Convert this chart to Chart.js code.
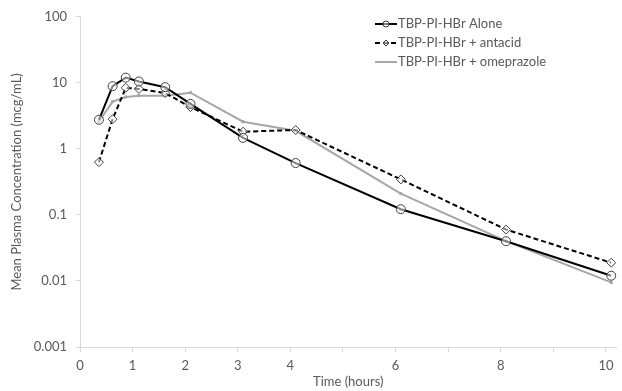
<!DOCTYPE html>
<html>
<head>
<meta charset="utf-8">
<script src="https://cdn.jsdelivr.net/npm/chart.js@4/dist/chart.umd.min.js"></script>
<style>
  html, body { margin: 0; padding: 0; background: #ffffff; }
  #wrap { width: 622px; height: 391px; position: relative; }
</style>
</head>
<body>
<div id="wrap"><canvas id="c" width="622" height="391"></canvas></div>
<script>
// ---- data ----
const times = [0.36, 0.62, 0.87, 1.12, 1.62, 2.1, 3.1, 4.1, 6.1, 8.1, 10.1];
const aloneValues = [2.76, 8.9, 12.0, 10.5, 8.6, 4.8, 1.47, 0.61, 0.122, 0.040, 0.0120];
const antacidValues = [0.63, 2.82, 8.4, 8.1, 7.0, 4.3, 1.82, 1.93, 0.345, 0.060, 0.0189];
const omeprazoleValues = [2.6, 5.2, 6.1, 6.4, 6.4, 7.1, 2.58, 1.88, 0.21, 0.040, 0.0095];
const seriesNames = ['TBP-PI-HBr Alone', 'TBP-PI-HBr + antacid', 'TBP-PI-HBr + omeprazole'];
const yTickValues = [0.001, 0.01, 0.1, 1, 10, 100];
const xLabelled = [0, 1, 2, 3, 4, 6, 8, 10];
const xTitle = 'Time (hours)';
const yTitle = 'Mean Plasma Concentration (mcg/mL)';

const FONT = 'Lato, "Open Sans", sans-serif';
const TEXT = '#595959';
const AXIS = '#d9d9d9';

function pts(vals) { return times.map((t, i) => ({ x: t, y: vals[i] })); }

const legendPlugin = {
  id: 'manualLegend',
  afterDraw(chart) {
    const ctx = chart.ctx;
    const x0 = 375, x1 = 397, rows = [24, 43, 62];
    ctx.save();
    chart.data.datasets.forEach((ds, i) => {
      const y = rows[i];
      ctx.beginPath();
      ctx.strokeStyle = ds.borderColor;
      ctx.lineWidth = ds.borderWidth;
      ctx.setLineDash(ds.borderDash || []);
      ctx.moveTo(x0, y); ctx.lineTo(x1, y); ctx.stroke();
      ctx.setLineDash([]);
      ctx.fillStyle = ds.pointBackgroundColor;
      ctx.strokeStyle = ds.pointBorderColor;
      ctx.lineWidth = ds.pointBorderWidth;
      Chart.helpers.drawPoint(ctx, {
        pointStyle: ds.pointStyle, radius: ds.pointRadius - 1.5, rotation: 0,
        borderWidth: ds.pointBorderWidth
      }, (x0 + x1) / 2, y);
      ctx.fillStyle = TEXT;
      ctx.font = '13px ' + FONT;
      ctx.textBaseline = 'middle';
      ctx.textAlign = 'left';
      ctx.fillText(ds.label, x1 + 1, y);
    });
    ctx.restore();
  }
};

new Chart(document.getElementById('c'), {
  type: 'scatter',
  data: {
    datasets: [
      {
        label: seriesNames[0], data: pts(aloneValues), showLine: true,
        borderColor: '#000000', borderWidth: 2,
        pointStyle: 'circle', pointRadius: 4.5,
        pointBackgroundColor: 'rgba(255,255,255,0.5)', pointBorderColor: '#404040', pointBorderWidth: 1
      },
      {
        label: seriesNames[1], data: pts(antacidValues), showLine: true,
        borderColor: '#000000', borderWidth: 2, borderDash: [5, 3],
        pointStyle: 'rectRot', pointRadius: 4.5,
        pointBackgroundColor: 'rgba(255,255,255,0.5)', pointBorderColor: '#404040', pointBorderWidth: 1
      },
      {
        label: seriesNames[2], data: pts(omeprazoleValues), showLine: true,
        borderColor: '#a6a6a6', borderWidth: 2,
        pointStyle: 'rect', pointRadius: 1.5,
        pointBackgroundColor: '#a6a6a6', pointBorderColor: '#a6a6a6', pointBorderWidth: 1
      }
    ]
  },
  options: {
    responsive: false,
    animation: false,
    devicePixelRatio: 1,
    layout: { padding: { top: 13, right: 2, left: 0, bottom: 0 } },
    plugins: { legend: { display: false }, tooltip: { enabled: false } },
    elements: { line: { tension: 0 } },
    scales: {
      x: {
        type: 'linear', min: 0, max: 10.2,
        afterFit(s) { s.height = 44; },
        ticks: {
          stepSize: 1, includeBounds: false, color: TEXT, padding: 6,
          font: { family: FONT, size: 13 }, maxRotation: 0, autoSkip: false,
          callback: v => xLabelled.includes(v) ? String(v) : ''
        },
        grid: { display: true, drawOnChartArea: false, drawTicks: true, tickLength: 5, color: AXIS },
        border: { display: true, color: AXIS, width: 1 },
        title: { display: true, text: xTitle, color: TEXT, font: { family: FONT, size: 13 }, padding: { top: 2, bottom: 1 } }
      },
      y: {
        type: 'logarithmic', min: 0.001, max: 100,
        afterFit(s) { s.width = 80; },
        afterBuildTicks(s) { s.ticks = yTickValues.map(v => ({ value: v })); },
        ticks: {
          color: TEXT, padding: 9, font: { family: FONT, size: 13 },
          callback: v => String(v)
        },
        grid: { display: true, drawOnChartArea: false, drawTicks: true, tickLength: 4, color: AXIS },
        border: { display: true, color: AXIS, width: 1 },
        title: { display: true, text: yTitle, color: TEXT, font: { family: FONT, size: 13 }, padding: { top: 9, bottom: 4 } }
      }
    }
  },
  plugins: [legendPlugin]
});
</script>
</body>
</html>
